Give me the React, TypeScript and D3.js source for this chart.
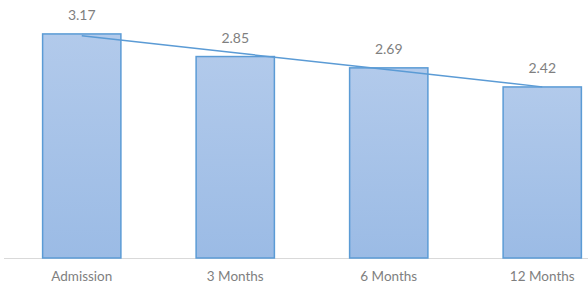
import React, { useRef, useEffect } from 'react'
import * as d3 from 'd3'

const categories = ['Admission', '3 Months', '6 Months', '12 Months']
const values = [3.17, 2.85, 2.69, 2.42]

const width = 588
const height = 289

export default function App() {
  const ref = useRef<SVGSVGElement>(null)

  useEffect(() => {
    const svg = d3.select(ref.current!)
    svg.selectAll('*').remove()

    const baseline = 258
    const x = d3.scaleBand().domain(categories).range([5, 619]).paddingInner(0.49).paddingOuter(0.245)
    const y = d3.scaleLinear().domain([0, 3.65]).range([baseline, 0])

    const defs = svg.append('defs')
    const grad = defs
      .append('linearGradient')
      .attr('id', 'barFill')
      .attr('x1', 0)
      .attr('y1', 0)
      .attr('x2', 0)
      .attr('y2', 1)
    grad.append('stop').attr('offset', '0%').attr('stop-color', '#b2caeb')
    grad.append('stop').attr('offset', '100%').attr('stop-color', '#9bbbe5')

    // axis line
    svg
      .append('line')
      .attr('x1', 4)
      .attr('x2', width)
      .attr('y1', baseline + 0.5)
      .attr('y2', baseline + 0.5)
      .attr('stroke', '#d9d9d9')
      .attr('stroke-width', 1)

    svg
      .selectAll('rect.bar')
      .data(values)
      .enter()
      .append('rect')
      .attr('class', 'bar')
      .attr('x', (d, i) => x(categories[i])!)
      .attr('y', (d) => y(d))
      .attr('width', x.bandwidth())
      .attr('height', (d) => baseline - y(d))
      .attr('fill', 'url(#barFill)')
      .attr('stroke', '#5b9bd5')
      .attr('stroke-width', 1.5)

    // linear trendline (least squares over the bars)
    const idx = values.map((d, i) => i)
    const mx = d3.mean(idx)!
    const my = d3.mean(values)!
    const slope =
      d3.sum(idx, (i) => (i - mx) * (values[i] - my)) / d3.sum(idx, (i) => (i - mx) * (i - mx))
    const trend = idx.map((i) => my + slope * (i - mx))
    const cx = (i: number) => x(categories[i])! + x.bandwidth() / 2

    const line = d3
      .line<number>()
      .x((d, i) => cx(i))
      .y((d) => y(d))

    svg
      .append('path')
      .datum(trend)
      .attr('fill', 'none')
      .attr('stroke', '#5b9bd5')
      .attr('stroke-width', 1.5)
      .attr('d', line)

    svg
      .selectAll('text.val')
      .data(values)
      .enter()
      .append('text')
      .attr('class', 'val')
      .attr('x', (d, i) => cx(i))
      .attr('y', (d) => y(d) - 13.5)
      .attr('text-anchor', 'middle')
      .attr('font-family', 'Lato, sans-serif')
      .attr('font-size', 14)
      .attr('fill', '#7f7f7f')
      .text((d) => d.toFixed(2))

    svg
      .selectAll('text.cat')
      .data(categories)
      .enter()
      .append('text')
      .attr('class', 'cat')
      .attr('x', (d, i) => cx(i))
      .attr('y', 281)
      .attr('text-anchor', 'middle')
      .attr('font-family', 'Lato, sans-serif')
      .attr('font-size', 13.5)
      .attr('fill', '#7f7f7f')
      .text((d) => d)
  }, [])

  return (
    <svg
      ref={ref}
      width={width}
      height={height}
      style={{ position: 'absolute', left: 0, top: 0, background: '#fff' }}
    />
  )
}
